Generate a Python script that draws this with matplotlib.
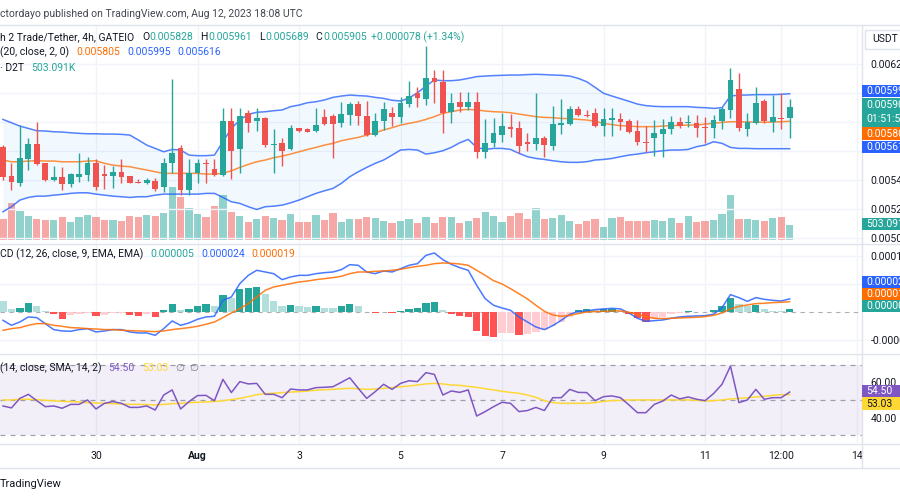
import numpy as np
import matplotlib
matplotlib.use("Agg")
import matplotlib.pyplot as plt
from matplotlib.patches import Rectangle
from matplotlib.lines import Line2D
from matplotlib.ticker import FuncFormatter

plt.rcParams['font.family'] = ['Roboto', 'DejaVu Sans']

W, H = 900, 500
UP, DOWN = '#26a69a', '#ef5350'
BLUE, ORANGE = '#2962ff', '#ff6d00'
PURPLE, YELLOW = '#7e57c2', '#fdd835'
TXT = '#131722'
GRID = '#f0f3fa'
SEP = '#e0e3eb'

# 4h candles, index 0 = Jul 30 00:00 UTC
first_idx = -11
opens = [0.005625, 0.005428, 0.005377, 0.005547, 0.005648, 0.005515, 0.005400, 0.005418, 0.005372, 0.005423, 0.005435,
         0.005515, 0.005439, 0.005428, 0.005458, 0.005428, 0.005386, 0.005382, 0.005391, 0.005350, 0.005520, 0.005618,
         0.005331, 0.005446, 0.005520, 0.005478, 0.005435, 0.005807, 0.005611, 0.005864, 0.005809, 0.005825, 0.005639,
         0.005653, 0.005611, 0.005756,
         0.005749, 0.005740, 0.005837, 0.005841, 0.005791, 0.005848, 0.005924, 0.005841, 0.005710, 0.005809, 0.005860,
         0.005832, 0.005924, 0.005998, 0.005956, 0.006101, 0.006078, 0.005867, 0.005936, 0.005901, 0.005940, 0.005595,
         0.005653, 0.005710, 0.005768, 0.005756, 0.005660, 0.005648, 0.005687, 0.005635, 0.005779, 0.005784, 0.005887,
         0.005848, 0.005864,
         0.005775, 0.005814, 0.005819, 0.005809, 0.005738, 0.005664, 0.005687, 0.005717, 0.005749, 0.005802, 0.005791,
         0.005791, 0.005768, 0.005761, 0.005807, 0.005883, 0.006025, 0.005749, 0.005791, 0.005947, 0.005802, 0.005830,
         0.005828]
highs = [0.005640, 0.005515, 0.005779, 0.005687, 0.005798, 0.005515, 0.005500, 0.005487, 0.005446, 0.005584, 0.005556,
         0.005545, 0.005503, 0.005496, 0.005545, 0.005428, 0.005405, 0.005412, 0.005412, 0.005549, 0.006097, 0.005641,
         0.005542, 0.005542, 0.005542, 0.005542, 0.005894, 0.005894, 0.005899, 0.005883, 0.005894, 0.005832, 0.005752,
         0.005687, 0.005777, 0.005761,
         0.005756, 0.005894, 0.005887, 0.005855, 0.005940, 0.005940, 0.005947, 0.005947, 0.005860, 0.005940, 0.005901,
         0.005975, 0.006085, 0.006044, 0.006324, 0.006159, 0.006159, 0.005998, 0.006005, 0.006005, 0.006005, 0.005819,
         0.005825, 0.005860, 0.005855, 0.005809, 0.005722, 0.005998, 0.005703, 0.005910, 0.005956, 0.005910, 0.005910,
         0.005883, 0.005894,
         0.005894, 0.005894, 0.005860, 0.005819, 0.005814, 0.005773, 0.005814, 0.005819, 0.005841, 0.005837, 0.005848,
         0.005848, 0.005837, 0.005848, 0.005906, 0.006170, 0.006136, 0.005860, 0.006044, 0.005956, 0.005986, 0.005998,
         0.005961]
lows = [0.005400, 0.005331, 0.005361, 0.005469, 0.005503, 0.005395, 0.005395, 0.005331, 0.005354, 0.005389, 0.005395,
        0.005331, 0.005336, 0.005343, 0.005382, 0.005377, 0.005377, 0.005372, 0.005326, 0.005320, 0.005446, 0.005297,
        0.005297, 0.005377, 0.005377, 0.005428, 0.005428, 0.005405, 0.005446, 0.005733, 0.005740, 0.005625, 0.005446,
        0.005497, 0.005607, 0.005733,
        0.005729, 0.005733, 0.005777, 0.005554, 0.005768, 0.005779, 0.005779, 0.005706, 0.005706, 0.005745, 0.005773,
        0.005791, 0.005906, 0.005906, 0.005917, 0.005929, 0.005722, 0.005796, 0.005871, 0.005883, 0.005554, 0.005554,
        0.005630, 0.005664, 0.005699, 0.005589, 0.005602, 0.005607, 0.005561, 0.005607, 0.005717, 0.005779, 0.005844,
        0.005837, 0.005768,
        0.005703, 0.005703, 0.005745, 0.005727, 0.005641, 0.005595, 0.005566, 0.005561, 0.005717, 0.005756, 0.005768,
        0.005699, 0.005653, 0.005687, 0.005749, 0.005825, 0.005740, 0.005703, 0.005786, 0.005796, 0.005733, 0.005752,
        0.005689]
closes = [0.005418, 0.005386, 0.005549, 0.005648, 0.005510, 0.005400, 0.005418, 0.005372, 0.005439, 0.005439, 0.005515,
          0.005354, 0.005430, 0.005458, 0.005423, 0.005377, 0.005377, 0.005400, 0.005336, 0.005520, 0.005589, 0.005331,
          0.005451, 0.005520, 0.005510, 0.005435, 0.005807, 0.005602, 0.005841, 0.005795, 0.005825, 0.005641, 0.005648,
          0.005600, 0.005761, 0.005738,
          0.005733, 0.005779, 0.005784, 0.005784, 0.005855, 0.005924, 0.005841, 0.005710, 0.005807, 0.005890, 0.005832,
          0.005929, 0.005979, 0.005963, 0.006101, 0.006078, 0.005864, 0.005929, 0.005906, 0.005940, 0.005595, 0.005658,
          0.005722, 0.005773, 0.005752, 0.005635, 0.005648, 0.005687, 0.005641, 0.005786, 0.005791, 0.005887, 0.005848,
          0.005841, 0.005775,
          0.005819, 0.005825, 0.005802, 0.005729, 0.005664, 0.005658, 0.005727, 0.005749, 0.005802, 0.005773, 0.005796,
          0.005761, 0.005761, 0.005814, 0.005887, 0.006090, 0.005756, 0.005798, 0.005929, 0.005807, 0.005832, 0.005819,
          0.005905]
volume_k = [694, 1254, 974, 806, 694, 672, 672, 762, 616, 762, 829,
            762, 672, 672, 650, 806, 784, 829, 806, 918, 1792, 1456, 1086, 862, 784, 1142, 1512, 952, 806, 616, 694,
            806, 728, 672, 862, 616,
            616, 840, 672, 896, 605, 706, 706, 762, 728, 638, 582, 638, 706, 582, 762, 582, 762, 762, 582, 638, 728,
            941, 806, 605, 806, 918, 706, 1075, 706, 739, 829, 638, 549, 638, 706,
            448, 728, 762, 638, 638, 638, 672, 638, 728, 582, 806, 605, 638, 672, 862, 1512, 706, 706, 672, 638, 728,
            762, 503.091]

bb_upper = [0.005818, 0.005795, 0.005772, 0.005756, 0.005740, 0.005738, 0.005733, 0.005731, 0.005726, 0.005722, 0.005719,
            0.005719, 0.005717, 0.005717, 0.005715, 0.005710, 0.005676, 0.005641, 0.005618, 0.005595, 0.005611, 0.005607,
            0.005572, 0.005568, 0.005568, 0.005572, 0.005664, 0.005756, 0.005814, 0.005853, 0.005867, 0.005871, 0.005878,
            0.005883, 0.005906, 0.005917,
            0.005933, 0.005940, 0.005952, 0.005970, 0.005979, 0.005986, 0.005982, 0.005979, 0.005970, 0.005963, 0.005950,
            0.005945, 0.005965, 0.006002, 0.006048, 0.006090, 0.006085, 0.006085, 0.006090, 0.006101, 0.006113, 0.006117,
            0.006120, 0.006122, 0.006124, 0.006124, 0.006127, 0.006129, 0.006127, 0.006124, 0.006122, 0.006117, 0.006101,
            0.006078, 0.006039,
            0.005998, 0.005979, 0.005961, 0.005943, 0.005924, 0.005913, 0.005908, 0.005906, 0.005906, 0.005906, 0.005906,
            0.005901, 0.005899, 0.005894, 0.005899, 0.005979, 0.005986, 0.005986, 0.005989, 0.005989, 0.005989, 0.005991,
            0.005995]
bb_basis = [0.005538, 0.005526, 0.005526, 0.005531, 0.005533, 0.005531, 0.005531, 0.005526, 0.005526, 0.005526, 0.005531,
            0.005533, 0.005515, 0.005503, 0.005496, 0.005492, 0.005480, 0.005469, 0.005457, 0.005446, 0.005446, 0.005446,
            0.005446, 0.005446, 0.005441, 0.005441, 0.005446, 0.005464, 0.005487, 0.005508, 0.005526, 0.005538, 0.005554,
            0.005565, 0.005579, 0.005595,
            0.005611, 0.005625, 0.005641, 0.005653, 0.005671, 0.005683, 0.005694, 0.005710, 0.005726, 0.005745, 0.005761,
            0.005779, 0.005791, 0.005802, 0.005818, 0.005837, 0.005860, 0.005871, 0.005883, 0.005887, 0.005883, 0.005876,
            0.005871, 0.005869, 0.005864, 0.005855, 0.005846, 0.005837, 0.005832, 0.005830, 0.005825, 0.005823, 0.005818,
            0.005814, 0.005805,
            0.005791, 0.005782, 0.005775, 0.005772, 0.005768, 0.005768, 0.005768, 0.005772, 0.005775, 0.005777, 0.005779,
            0.005779, 0.005786, 0.005791, 0.005798, 0.005802, 0.005802, 0.005800, 0.005800, 0.005798, 0.005800, 0.005802,
            0.005805]
bb_lower = [0.005181, 0.005216, 0.005262, 0.005280, 0.005289, 0.005289, 0.005296, 0.005301, 0.005308, 0.005312, 0.005312,
            0.005303, 0.005296, 0.005289, 0.005285, 0.005280, 0.005285, 0.005285, 0.005296, 0.005303, 0.005303, 0.005303,
            0.005303, 0.005303, 0.005308, 0.005308, 0.005280, 0.005250, 0.005239, 0.005216, 0.005197, 0.005216, 0.005220,
            0.005227, 0.005243, 0.005262,
            0.005285, 0.005308, 0.005326, 0.005342, 0.005377, 0.005423, 0.005457, 0.005487, 0.005515, 0.005538, 0.005572,
            0.005607, 0.005611, 0.005607, 0.005579, 0.005588, 0.005602, 0.005625, 0.005657, 0.005680, 0.005625, 0.005611,
            0.005618, 0.005618, 0.005611, 0.005584, 0.005561, 0.005549, 0.005542, 0.005533, 0.005526, 0.005522, 0.005522,
            0.005526, 0.005538,
            0.005542, 0.005549, 0.005561, 0.005572, 0.005579, 0.005588, 0.005595, 0.005602, 0.005607, 0.005607, 0.005611,
            0.005630, 0.005641, 0.005664, 0.005653, 0.005625, 0.005618, 0.005618, 0.005616, 0.005616, 0.005616, 0.005616,
            0.005616]

# MACD values in units of 1e-6 USDT
macd_line = [-14.3, -23.2, -17.3, -8.3, -9.5, -20.2, -30.9, -33.3, -33.9, -30.9, -29.2,
             -35.1, -33.3, -30.9, -30.9, -35.1, -36.9, -36.9, -41.1, -29.2, -15.5, -23.2, -19.0, -12.5, -8.3, -7.1,
             21.4, 27.4, 51.2, 66.0, 75.0, 72.0, 69.0, 58.3, 63.1, 66.0,
             66.0, 69.0, 70.8, 72.0, 76.2, 85.1, 83.9, 72.0, 69.0, 73.8, 72.0, 77.9, 83.9, 86.9, 101.7, 105.9, 94.0,
             85.7, 79.7, 75.0, 48.2, 24.4, 12.5, 7.7, 3.6, -8.3, -17.3, -26.2, -30.9, -23.8, -14.3, -3.6, 1.2, 2.4, 4.8,
             6.0, 7.1, 6.0, -1.2, -10.7, -16.1, -14.9, -13.7, -10.7, -8.3, -7.1, -6.5, -6.0, -3.6, 8.3, 31.5, 26.2,
             19.6, 26.2, 23.2, 21.4, 20.2, 24.0]
macd_signal = [-32.1, -29.2, -27.4, -23.2, -20.2, -20.2, -23.2, -25.0, -27.4, -28.0, -29.2,
               -29.8, -30.9, -30.9, -32.1, -32.7, -33.3, -33.9, -34.5, -33.3, -30.9, -29.2, -27.4, -25.0, -21.4, -17.3,
               -9.5, -1.2, 6.5, 15.5, 27.4, 39.3, 45.2, 48.2, 51.2, 54.1,
               55.9, 58.3, 60.1, 61.9, 64.3, 69.0, 72.0, 72.0, 73.2, 73.8, 75.0, 76.8, 79.7, 82.1, 83.9, 86.9, 88.1,
               87.5, 86.3, 83.9, 75.0, 66.0, 56.5, 50.6, 42.2, 33.3, 23.8, 12.5, 1.8, -4.8, -7.1, -5.4, -2.4, 0.6, 1.2,
               1.8, 2.4, 2.4, 0.0, -3.6, -7.7, -10.7, -11.3, -10.7, -10.1, -9.5, -8.9, -7.7, -5.4, -1.2, 6.0, 10.7,
               13.1, 15.5, 16.1, 17.3, 17.9, 19.0]
macd_hist = [19.6, 6.5, 8.3, 16.7, 11.9, 1.8, -3.6, -11.3, -5.4, -3.6, -1.2,
             -7.1, -5.4, -1.8, -1.2, -4.8, -6.5, -2.4, -7.7, 4.8, 14.3, 4.8, 6.0, 10.7, 14.3, 11.9, 30.3, 26.2,
             41.1, 44.0, 44.6, 32.1, 20.2, 11.9, 12.5, 10.7,
             9.5, 10.7, 8.3, 7.1, 10.7, 15.5, 10.7, 0.6, -1.2, 1.2, -1.8, 2.4, 6.5, 8.3, 16.7, 18.4, 4.8, -3.0, -6.0,
             -8.3, -33.3, -42.8, -43.4, -37.5, -36.9, -39.9, -39.3, -35.1, -32.1, -25.0, -17.3, -8.3, 3.6, 6.5, 3.6,
             6.0, 6.5, 3.0, -3.6, -9.5, -16.7, -12.5, -7.7, -3.0, -0.6, 1.8, 1.2, 0.6, 3.6, 11.3, 26.2, 14.9, 11.9,
             12.5, 6.0, 3.0, 1.8, 5.0]

rsi_line = [46.6, 45.5, 50.9, 53.2, 49.6, 46.2, 46.6, 45.3, 47.5, 47.5, 50.0,
            44.9, 48.1, 49.1, 48.1, 45.8, 45.8, 46.6, 44.3, 52.8, 55.7, 44.9, 49.1, 52.5, 52.6, 49.6, 61.7, 54.2,
            60.4, 59.1, 59.4, 53.2, 53.2, 51.3, 56.2, 55.7,
            55.7, 57.0, 57.2, 57.5, 60.0, 62.6, 56.6, 50.9, 54.7, 58.9, 56.0, 59.4, 60.9, 60.4, 65.5, 64.5, 52.8,
            55.1, 54.3, 55.7, 40.9, 43.4, 46.2, 48.7, 48.1, 43.4, 44.0, 45.8, 44.0, 51.3, 51.3, 56.0, 54.3, 54.2, 49.6,
            51.9, 52.3, 51.3, 47.2, 42.8, 42.8, 47.5, 49.4, 52.8, 50.6, 51.7, 50.4, 49.6, 53.6, 58.9, 69.2, 48.5,
            50.0, 56.0, 50.4, 51.3, 51.3, 54.5]
rsi_ma = [50.0, 50.0, 50.4, 50.4, 50.2, 49.8, 49.6, 49.2, 49.1, 48.9, 48.5,
          48.3, 48.1, 47.9, 47.7, 47.5, 47.5, 47.4, 47.2, 47.5, 47.9, 48.1, 48.5, 48.7, 48.9, 49.1, 49.6, 50.2,
          50.9, 51.9, 53.0, 53.6, 53.8, 54.2, 54.5, 54.7,
          55.1, 55.5, 55.8, 56.0, 56.4, 56.6, 56.4, 56.0, 56.2, 56.6, 57.0, 57.5, 57.9, 58.5, 59.1, 59.4, 59.1,
          58.5, 58.3, 57.7, 57.2, 56.4, 55.7, 54.9, 54.3, 53.8, 52.8, 51.5, 49.6, 48.5, 48.1, 48.1, 48.1, 48.1, 48.5,
          49.2, 49.6, 49.8, 50.0, 50.0, 50.0, 50.0, 50.0, 50.0, 50.0, 50.0, 49.8, 49.4, 49.6, 50.0, 50.6, 50.9,
          51.3, 51.7, 52.1, 52.6, 53.0, 53.03]

tick_idx = [0, 12, 24, 36, 48, 60, 72, 81, 90]
tick_lab = ['30', 'Aug', '3', '5', '7', '9', '11', '12:00', '14']
price_grid = [0.0050, 0.0052, 0.0054, 0.0056, 0.0058, 0.0060, 0.0062]
price_ticks = [0.0050, 0.0052, 0.0054, 0.0062]   # the others sit under the value labels
macd_grid = [-50, 50, 100]
macd_ticks = [-50, 100]
rsi_ticks = [40, 60]

fig = plt.figure(figsize=(W / 100, H / 100), dpi=100, facecolor='white')


def frac(x0, y0, x1, y1):
    return [x0 / W, 1 - y1 / H, (x1 - x0) / W, (y1 - y0) / H]


XL = (-11.35, 90.55)
ax_v = fig.add_axes(frac(0, 26, 862, 243))
ax_p = ax_v.twinx()
ax_m = fig.add_axes(frac(0, 245, 862, 353))
ax_r = fig.add_axes(frac(0, 355, 862, 443))
ax_t = fig.add_axes(frac(0, 444, 862, 468))
for a in (ax_v, ax_p, ax_m, ax_r, ax_t):
    a.set_xlim(*XL)
    a.set_facecolor('none')
    for s in a.spines.values():
        s.set_visible(False)
    a.tick_params(axis='x', length=0, labelbottom=False)
    a.set_xticks([])
ax_v.set_yticks([])
ax_t.set_yticks([])
ax_t.set_ylim(0, 1)

x = np.arange(first_idx, first_idx + len(opens))
o, h, l, c = (np.array(v) for v in (opens, highs, lows, closes))
col = np.where(c >= o, UP, DOWN)

# grid
for p in tick_idx:
    for a in (ax_v, ax_m, ax_r):
        a.axvline(p, color=GRID, lw=1, zorder=0)
for p in price_grid:
    ax_p.axhline(p, color=GRID, lw=1, zorder=0)
for p in macd_grid:
    ax_m.axhline(p, color=GRID, lw=1, zorder=0)

# volume
ax_v.set_ylim(-100.6, 7176)
ax_v.bar(x, volume_k, width=0.86, color=col, alpha=0.5, lw=0, zorder=1)

# price pane
ax_p.set_ylim(0.004966, 0.006462)
ax_p.fill_between(x, bb_lower, bb_upper, color='#2196f3', alpha=0.06, lw=0, zorder=1)
ax_p.plot(x, bb_upper, color=BLUE, lw=1.1, alpha=0.8, zorder=2)
ax_p.plot(x, bb_lower, color=BLUE, lw=1.1, alpha=0.8, zorder=2)
ax_p.plot(x, bb_basis, color=ORANGE, lw=1.1, alpha=0.75, zorder=2)
ax_p.vlines(x, l, h, colors=col, lw=1, zorder=3)
ax_p.bar(x, np.maximum(np.abs(c - o), 0.000007), bottom=np.minimum(o, c), width=0.68,
         color=col, lw=0, zorder=4)
ax_p.set_yticks(price_ticks)
ax_p.yaxis.set_major_formatter(FuncFormatter(lambda v, _: f"{v:.6f}"))

# MACD pane (micro units)
ax_m.set_ylim(-72.7, 120.2)
hist_col = []
prev = macd_hist[0] + 1.0  # bar before the window was higher
for v in macd_hist:
    if v >= 0:
        hist_col.append('#26a69a' if v >= prev else '#b2dfdb')
    else:
        hist_col.append('#ff5252' if v < prev else '#ffcdd2')
    prev = v
ax_m.axhline(0, color='#787b86', lw=0.8, ls=(0, (4, 4)), alpha=0.6, zorder=1)
ax_m.bar(x, macd_hist, width=0.86, color=hist_col, lw=0, zorder=2)
ax_m.plot(x, macd_line, color=BLUE, lw=1.1, alpha=0.85, zorder=3)
ax_m.plot(x, macd_signal, color=ORANGE, lw=1.1, alpha=0.85, zorder=3)
ax_m.yaxis.tick_right()
ax_m.set_yticks(macd_ticks)
ax_m.yaxis.set_major_formatter(FuncFormatter(lambda v, _: f"{v * 1e-6:.6f}"))

# RSI pane
ax_r.set_ylim(25.6, 75.5)
ax_r.axhspan(30, 70, color=PURPLE, alpha=0.09, lw=0, zorder=0)
for lv in (70, 50, 30):
    ax_r.axhline(lv, color='#787b86', lw=0.9, ls=(0, (4, 4)), alpha=0.7, zorder=1)
ax_r.plot(x, rsi_ma, color=YELLOW, lw=1.1, zorder=2)
ax_r.plot(x, rsi_line, color=PURPLE, lw=1.1, zorder=3)
ax_r.yaxis.tick_right()
ax_r.set_yticks(rsi_ticks)
ax_r.yaxis.set_major_formatter(FuncFormatter(lambda v, _: f"{v:.2f}"))

for a in (ax_p, ax_m, ax_r):
    a.tick_params(axis='y', length=0, pad=6, labelsize=7.5, labelcolor=TXT)

# time axis
for p, s in zip(tick_idx, tick_lab):
    ax_t.text(p, 0.5, s, ha='center', va='center', fontsize=7.5, color=TXT,
              fontweight='bold' if s == 'Aug' else 'normal', clip_on=True)

# separators
for yy in (24.5, 244, 354, 443.5, 468):
    fig.add_artist(Line2D([0, 1], [1 - yy / H] * 2, color=SEP, lw=1))
fig.add_artist(Line2D([862 / W] * 2, [1 - 24.5 / H, 1 - 468 / H], color=SEP, lw=1))

rend = fig.canvas.get_renderer()


def runs(x0, y0, parts, size=7.5):
    for txt, cc, gap in parts:
        t = fig.text(x0 / W, 1 - y0 / H, txt, color=cc, fontsize=size, ha='left', va='center')
        x0 += t.get_window_extent(rend).width + gap


runs(0, 37, [("h 2 Trade/Tether, 4h, GATEIO", TXT, 8), ("O", TXT, 0.5), ("0.005828", UP, 7),
             ("H", TXT, 0.5), ("0.005961", UP, 7), ("L", TXT, 0.5), ("0.005689", UP, 7),
             ("C", TXT, 0.5), ("0.005905", UP, 4), ("+0.000078 (+1.34%)", UP, 0)])
runs(0, 52, [("(20, close, 2, 0)", TXT, 7), ("0.005805", ORANGE, 7), ("0.005995", BLUE, 7),
             ("0.005616", BLUE, 0)])
runs(0, 68, [("· D2T", TXT, 7), ("503.091K", UP, 0)])
runs(0, 254, [("CD (12, 26, close, 9, EMA, EMA)", TXT, 7), ("0.000005", UP, 7),
              ("0.000024", BLUE, 7), ("0.000019", ORANGE, 0)])
runs(0, 368, [("(14, close, SMA, 14, 2)", TXT, 7), ("54.50", PURPLE, 7), ("53.03", YELLOW, 7),
              ("∅", '#787b86', 5), ("∅", '#787b86', 0)])

fig.text(0, 1 - 14 / H, "ctordayo published on TradingView.com, Aug 12, 2023 18:08 UTC",
         fontsize=7.5, color='#434651', ha='left', va='center')
fig.text(0, 1 - 484 / H, "TradingView", fontsize=8, color=TXT, ha='left', va='center')


def scale_box(y0, y1, face, lines, tcol='white'):
    fig.add_artist(Rectangle((862 / W, 1 - y1 / H), 40 / W, (y1 - y0) / H,
                             transform=fig.transFigure, facecolor=face, edgecolor='none', zorder=5))
    n = len(lines)
    for k, s in enumerate(lines):
        yc = y0 + (y1 - y0) * (k + 0.5) / n
        fig.text(866 / W, 1 - yc / H, s, color=tcol, fontsize=7.5, ha='left', va='center', zorder=6)


scale_box(85, 97.3, BLUE, ["0.005995"])
scale_box(97.7, 126.7, UP, ["0.005905", "01:51:52"])
scale_box(127.3, 140.3, ORANGE, ["0.005805"])
scale_box(141, 153.3, BLUE, ["0.005616"])
scale_box(218.3, 230.3, UP, ["503.091K"])
scale_box(276, 287.6, BLUE, ["0.000024"])
scale_box(287.8, 299.6, ORANGE, ["0.000019"])
scale_box(299.8, 312, UP, ["0.000005"])
scale_box(385, 396.8, PURPLE, ["54.50"])
scale_box(397.2, 410, YELLOW, ["53.03"], tcol=TXT)

fig.add_artist(Rectangle((865 / W, 1 - 48.5 / H), 45 / W, 18.5 / H, transform=fig.transFigure,
                         facecolor='white', edgecolor=SEP, lw=1, zorder=5))
fig.text(872 / W, 1 - 39 / H, "USDT", fontsize=7.5, color=TXT, ha='left', va='center', zorder=6)

fig.savefig("out.png", dpi=100, facecolor='white')
